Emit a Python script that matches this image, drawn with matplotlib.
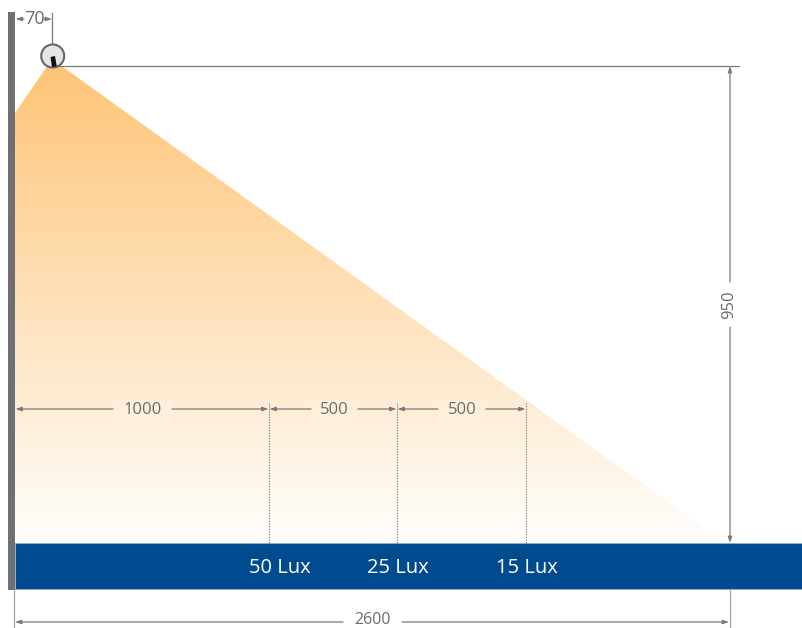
import numpy as np
import matplotlib
matplotlib.use("Agg")
import matplotlib.pyplot as plt
from matplotlib.patches import Polygon, Rectangle, Circle

plt.rcParams['font.family'] = ['Open Sans', 'DejaVu Sans']

# dimension labels and the drawing positions they belong to (the drawing is not to scale)
horizontal_labels = ["1000", "500", "500"]
horizontal_edges = [15, 269, 397, 526]
lux_labels = ["50 Lux", "25 Lux", "15 Lux"]
lux_x = [280, 398, 527]
height_label = "950"
width_label = "2600"
offset_label = "70"

GREY = "#7d7975"
WALL = "#706f73"
BLUE = "#004a90"

fig = plt.figure(figsize=(8.03, 6.28), dpi=100)
ax = fig.add_axes([0, 0, 1, 1])
ax.set_xlim(0, 803)
ax.set_ylim(628, 0)
ax.axis("off")

# light cone with vertical gradient
c0 = np.array([254, 196, 118]) / 255
c1 = np.array([255, 254, 252]) / 255
t = np.linspace(0, 1, 256)[:, None, None]
grad = c0[None, None, :] * (1 - t) + c1[None, None, :] * t
im = ax.imshow(grad, extent=(15, 730, 543, 62), aspect="auto", zorder=1, interpolation="bilinear")
cone = Polygon([(15, 113), (50, 62), (56, 62), (725, 543), (15, 543)], closed=True,
               transform=ax.transData, fc="none", ec="none")
ax.add_patch(cone)
im.set_clip_path(cone)
ax.set_xlim(0, 803)
ax.set_ylim(628, 0)

# road and wall
ax.add_patch(Rectangle((15, 543), 790, 46, fc=BLUE, ec="#8fb0d0", lw=0.6, zorder=3))
ax.add_patch(Rectangle((8, 12), 7, 578, fc=WALL, ec="none", zorder=4))


def arrow(x0, y0, x1, y1, color=GREY, z=5):
    ax.annotate("", xy=(x1, y1), xytext=(x0, y0), zorder=z,
                arrowprops=dict(arrowstyle="-|>,head_length=0.35,head_width=0.12", color=color, lw=0.9,
                                shrinkA=0, shrinkB=0))


def label(x, y, s, rot=0, size=12):
    ax.text(x, y, s, ha="center", va="center", color="#6f6b67", fontsize=size, rotation=rot, zorder=6)


# horizontal dimension row
row_y = 409
gaps = [(113, 172), (311, 358), (438, 486)]
for i, lab in enumerate(horizontal_labels):
    a, b = horizontal_edges[i], horizontal_edges[i + 1]
    g0, g1 = gaps[i]
    ax.add_patch(Rectangle((g0, row_y - 11), g1 - g0, 22, fc="#ffffff", alpha=0.12, ec="none", zorder=2))
    arrow(g0, row_y, a + 0.5, row_y)
    arrow(g1, row_y, b - 0.5, row_y)
    label((g0 + g1) / 2, row_y + 0.5, lab)

for x in horizontal_edges[1:]:
    ax.plot([x, x], [403, 543], color="#6f6b67", lw=0.8, ls=(0, (1, 1.4)), zorder=5)

for x, lab in zip(lux_x, lux_labels):
    ax.text(x, 568, lab, color="white", fontsize=14.5, ha="center", va="center", zorder=6)

# height dimension
ax.plot([53, 739], [66, 66], color=GREY, lw=0.9, zorder=5)
arrow(730, 282, 730, 66)
arrow(730, 327, 730, 543)
label(729, 305, height_label, rot=90)

# width dimension
ax.plot([14.5, 14.5], [590, 627], color="#a5a3a3", lw=0.9, zorder=5)
ax.plot([730, 730], [590, 627], color="#a5a3a3", lw=0.9, zorder=5)
arrow(343, 622, 15, 622)
arrow(402, 622, 729, 622)
label(373, 620.5, width_label, size=11.5)

# wall offset dimension
ax.plot([52.5, 52.5], [13, 45], color=GREY, lw=0.9, zorder=5)
arrow(24, 19, 15.5, 19)
arrow(44, 19, 52, 19)
label(34, 19.5, offset_label, size=13)

# luminaire
ax.add_patch(Circle((52.7, 56), 11.5, fc="#e4e5e7", ec="#66666a", lw=1.5, zorder=7))
ax.add_patch(Polygon([(50.5, 57), (55, 56), (56.8, 66.5), (52, 67)], closed=True, fc="#111111", ec="none", zorder=8))

fig.savefig("out.png", dpi=100)
